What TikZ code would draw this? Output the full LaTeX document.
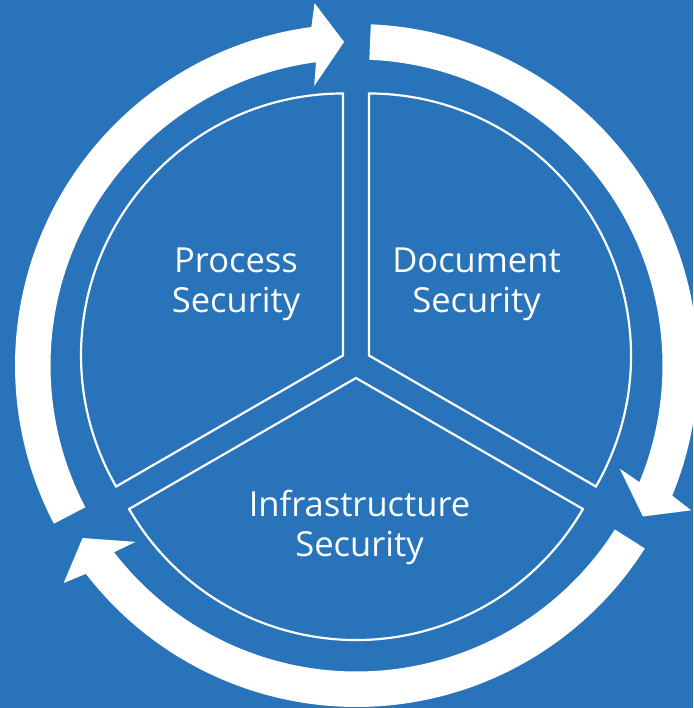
\documentclass[tikz,border=0pt]{standalone}
\usepackage{fontspec}
\setmainfont{Open Sans}
\definecolor{bgblue}{RGB}{40,115,185}
\tikzset{
  ringpiece/.style={fill=white},
  sectorline/.style={draw=white, line width=2.2pt, line join=miter},
  lbl/.style={text=white, align=center, font=\fontsize{34.5pt}{40pt}\selectfont, inner sep=0pt}
}
\begin{document}
\begin{tikzpicture}
\useasboundingbox (-356.5pt,-342.5pt) rectangle (336.5pt,365.5pt);
\fill[bgblue] (-356.5pt,-342.5pt) rectangle (336.5pt,365.5pt);
% circular arrows
\foreach \s [evaluate=\s as \b using \s-110,
             evaluate=\s as \t using \s-115.4,
             evaluate=\s as \bo using \s-111,
             evaluate=\s as \bi using \s-109] in {207.6,87.6,-32.4} {
  \fill[ringpiece] (\s:306pt) -- (\s:341.5pt)
     arc[start angle=\s, end angle=\b, radius=341.5pt]
     -- (\bo:364.75pt) -- (\t:323.75pt) -- (\bi:282.75pt)
     -- (\b:306pt) arc[start angle=\b, end angle=\s, radius=306pt] -- cycle;
}
% sectors
\coordinate (O) at (-0.5pt,2.5pt);
\coordinate (pa) at ([shift={(150:15pt)}]O);
\coordinate (da) at ([shift={(30:15pt)}]O);
\coordinate (ia) at ([shift={(270:15pt)}]O);
\draw[sectorline] (pa) -- ++(90:262pt) arc[start angle=90, end angle=210, radius=262pt] -- cycle;
\draw[sectorline] (da) -- ++(-30:262pt) arc[start angle=-30, end angle=90, radius=262pt] -- cycle;
\draw[sectorline] (ia) -- ++(210:262pt) arc[start angle=210, end angle=330, radius=262pt] -- cycle;
% labels (base anchor = baseline of last line)
\node[lbl, anchor=base] (proc) at (-120.5pt,53pt) {Process\\Security};
\node[lbl, anchor=base] (doc) at (120pt,53pt) {Document\\Security};
\node[lbl, anchor=base] (infra) at (3pt,-190.5pt) {Infrastructure\\Security};
\end{tikzpicture}
\end{document}
